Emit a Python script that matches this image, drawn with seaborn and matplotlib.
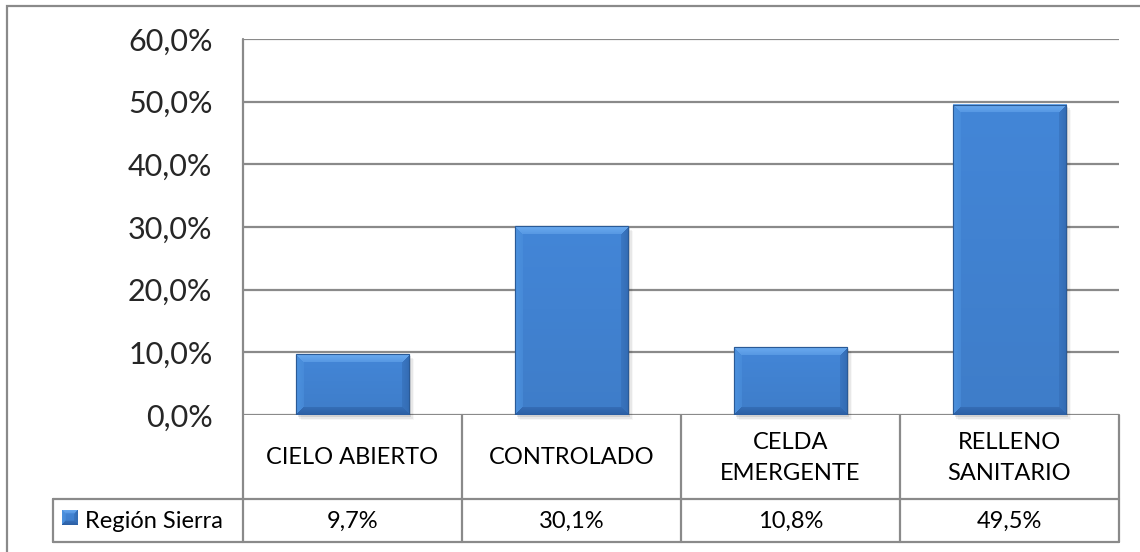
import numpy as np
import pandas as pd
import matplotlib
matplotlib.use("Agg")
import matplotlib.pyplot as plt
import seaborn as sns
from matplotlib.patches import Rectangle
from matplotlib.lines import Line2D

categories = ["CIELO ABIERTO", "CONTROLADO", "CELDA\nEMERGENTE", "RELLENO\nSANITARIO"]
values = [9.7, 30.1, 10.8, 49.5]
series_name = "Región Sierra"
yticks = [0, 10, 20, 30, 40, 50, 60]
value_labels = ["9,7%", "30,1%", "10,8%", "49,5%"]

sns.set_theme(style="white")
plt.rcParams['font.family'] = ['Lato', 'DejaVu Sans']

W, H = 1140, 552
fig = plt.figure(figsize=(W / 100, H / 100), dpi=100)

def fx(px):
    return px / W

def fy(py):
    return 1 - py / H

GRID = "#8a8a8a"
BASE = "#4182d2"

ax = fig.add_axes([fx(243), fy(415), fx(1119) - fx(243), fy(39) - fy(415)])
df = pd.DataFrame({"cat": categories, "val": values})
sns.barplot(data=df, x="cat", y="val", color=BASE, width=0.52, ax=ax,
            saturation=1, edgecolor="#2a5a96", linewidth=0.8, zorder=3)
ax.set_ylim(0, 60)
ax.set_xlim(-0.5, len(categories) - 0.5)
ax.set_yticks(yticks)
ax.set_yticklabels([f"{v:.1f}%".replace(".", ",") for v in yticks], fontsize=22)
ax.tick_params(axis="y", length=0, pad=22)
ax.set_xticks([])
ax.set_xlabel("")
ax.set_ylabel("")
for s in ["top", "right", "bottom", "left"]:
    ax.spines[s].set_visible(False)
for t in yticks:
    ax.axhline(t, color=GRID, lw=1.6, zorder=1)
ax.set_facecolor("none")

def bevel_img(wpx, hpx, b=8):
    wpx = max(int(round(wpx)), 2)
    hpx = max(int(round(hpx)), 2)
    yy, xx = np.mgrid[0:hpx, 0:wpx]
    dt = yy + 0.5
    db = hpx - yy - 0.5
    dl = xx + 0.5
    dr = wpx - xx - 0.5
    base = np.array([0.255, 0.51, 0.82])
    top = np.array([0.42, 0.67, 0.94])
    left = np.array([0.30, 0.57, 0.87])
    right = np.array([0.20, 0.42, 0.70])
    bot = np.array([0.17, 0.37, 0.64])
    img = np.zeros((hpx, wpx, 4))
    g = (yy / hpx)[..., None]
    img[..., :3] = base * (1.03 - 0.07 * g)
    img[..., 3] = 1
    stack = np.stack([dt, db, dl, dr])
    m = stack.argmin(0)
    mn = stack.min(0)
    inb = mn < b
    for k, col in enumerate([top, bot, left, right]):
        sel = inb & (m == k)
        f = (1 - mn[sel] / b)[:, None] * 0.5 + 0.5
        img[sel, :3] = col * f + img[sel, :3] * (1 - f)
    return np.clip(img, 0, 1)

fig.canvas.draw()
for p in list(ax.patches):
    x0, y0 = p.get_x(), p.get_y()
    w, h = p.get_width(), p.get_height()
    (px0, py0), (px1, py1) = ax.transData.transform([(x0, y0), (x0 + w, y0 + h)])
    inv = ax.transData.inverted()
    for i, a in enumerate([0.10, 0.06, 0.03]):
        off = 2 + i * 1.5
        (sx0, sy0), (sx1, sy1) = inv.transform([(px0 + off, py0 - off), (px1 + off, py1 - off)])
        ax.add_patch(Rectangle((sx0, sy0), sx1 - sx0, sy1 - sy0,
                               facecolor="black", alpha=a, edgecolor="none",
                               zorder=2, clip_on=False))
    img = bevel_img(px1 - px0, py1 - py0)
    ax.imshow(img, extent=(x0, x0 + w, y0, y0 + h), aspect="auto",
              zorder=3.5, interpolation="bilinear")
    ax.add_patch(Rectangle((x0, y0), w, h, facecolor="none", edgecolor="#2a5a96",
                           lw=0.8, zorder=3.6))
ax.set_xlim(-0.5, len(categories) - 0.5)
ax.set_ylim(0, 60)

def hline(y, x0, x1):
    fig.add_artist(Line2D([fx(x0), fx(x1)], [fy(y), fy(y)], color=GRID, lw=1.6, zorder=5))

def vline(x, y0, y1):
    fig.add_artist(Line2D([fx(x), fx(x)], [fy(y0), fy(y1)], color=GRID, lw=1.6, zorder=5))

cols = [243, 462, 681, 900, 1119]
hline(499, 53, 1119)
hline(542, 53, 1119)
vline(243, 39, 542)
vline(53, 499, 542)
for c in cols[1:]:
    vline(c, 415, 542)

fig.add_artist(Rectangle((fx(7), fy(556)), fx(1145) - fx(7), fy(6) - fy(556),
                         facecolor="none", edgecolor="#8a8a8a", lw=1.6))

for i, (cat, vl) in enumerate(zip(categories, value_labels)):
    cx = (cols[i] + cols[i + 1]) / 2
    fig.text(fx(cx), fy(458), cat, ha="center", va="center", fontsize=17,
             linespacing=1.6, color="black")
    fig.text(fx(cx), fy(521), vl, ha="center", va="center", fontsize=17,
             color="black")

lax = fig.add_axes([fx(62), fy(525), fx(78) - fx(62), fy(510) - fy(525)])
lax.imshow(bevel_img(16, 15, b=4), aspect="auto", interpolation="bilinear")
lax.axis("off")
fig.text(fx(85), fy(521), series_name, ha="left", va="center", fontsize=17,
         color="black")

fig.savefig("out.png", dpi=100)
